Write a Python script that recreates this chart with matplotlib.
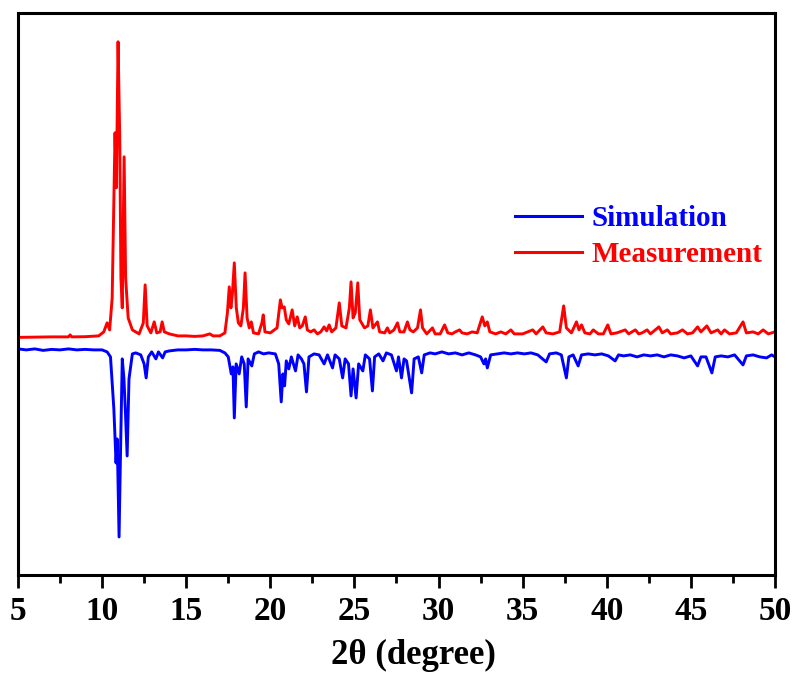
import matplotlib
matplotlib.use("Agg")
import matplotlib.pyplot as plt
from matplotlib.ticker import MultipleLocator

# Measured pattern (red): 2theta vertices and intensity above its own baseline
red_x = [5.0, 6.0, 7.0, 8.0, 8.1, 8.2, 9.0, 9.8, 10.1, 10.3, 10.45, 10.6, 10.77, 10.85,
         10.95, 11.05, 11.12, 11.2, 11.31, 11.4, 11.55, 11.8, 12.2, 12.45, 12.56, 12.68,
         12.9, 13.1, 13.25, 13.45, 13.57, 13.7, 14.0, 14.5, 15.0, 15.5, 16.0, 16.4, 16.6,
         17.0, 17.3, 17.45, 17.56, 17.66, 17.75, 17.86, 17.98, 18.1, 18.25, 18.4, 18.5,
         18.62, 18.75, 18.87, 19.0, 19.3, 19.5, 19.58, 19.68, 20.0, 20.4, 20.6, 20.7,
         20.83, 20.95, 21.1, 21.3, 21.45, 21.6, 21.75, 21.9, 22.08, 22.2, 22.4, 22.6,
         22.8, 23.0, 23.2, 23.35, 23.5, 23.65, 23.9, 24.1, 24.25, 24.5, 24.7, 24.8,
         24.92, 25.05, 25.2, 25.32, 25.6, 25.8, 25.95, 26.1, 26.37, 26.5, 26.8, 26.96,
         27.1, 27.35, 27.56, 27.7, 27.95, 28.15, 28.3, 28.5, 28.75, 28.93, 29.05, 29.3,
         29.64, 29.8, 30.1, 30.36, 30.55, 30.8, 31.0, 31.25, 31.4, 31.7, 32.0, 32.3,
         32.6, 32.75, 32.9, 33.05, 33.4, 33.7, 34.0, 34.3, 34.5, 35.0, 35.3, 35.6, 35.8,
         36.2, 36.4, 36.8, 37.2, 37.44, 37.6, 37.9, 38.2, 38.35, 38.5, 38.7, 39.0, 39.2,
         39.5, 39.8, 40.06, 40.25, 40.6, 41.1, 41.3, 41.7, 41.9, 42.1, 42.4, 42.6, 43.1,
         43.3, 43.6, 43.8, 44.2, 44.5, 44.8, 45.1, 45.4, 45.6, 45.95, 46.2, 46.6, 46.8,
         47.0, 47.3, 47.7, 48.1, 48.3, 48.7, 49.0, 49.3, 49.6, 50.0]
red_y = [0.5, 0.8, 1.0, 1.0, 3, 1, 1.2, 2, 6, 15, 8, 40, 205, 150,
         296, 200, 60, 30, 181, 60, 20, 8, 4, 15, 53, 12,
         5, 16, 5, 6, 16, 6, 4, 2, 2, 1.5, 2, 4, 2,
         2, 5, 25, 51, 30, 45, 75, 30, 15, 12, 30, 65,
         20, 10, 16, 5, 4, 15, 23, 6, 5, 10, 38, 30,
         31, 18, 14, 28, 12, 21, 10, 12, 21, 8, 6, 8,
         4, 6, 11, 7, 13, 6, 10, 35, 12, 10, 30, 56,
         20, 25, 55, 18, 10, 12, 28, 10, 16, 6, 5, 10,
         5, 8, 15, 6, 6, 16, 8, 6, 10, 28, 10, 4,
         10, 4, 4, 13, 5, 4, 6, 8, 5, 4, 6, 5,
         21, 12, 16, 6, 4, 6, 4, 8, 4, 4, 6, 8, 4,
         11, 5, 4, 6, 32, 10, 5, 16, 8, 13, 5, 4, 8,
         4, 4, 13, 4, 5, 8, 4, 8, 4, 5, 8, 4, 11,
         5, 8, 4, 5, 8, 4, 5, 11, 6, 12, 5, 8, 4,
         8, 4, 5, 16, 5, 6, 4, 8, 4, 6]

# Simulated pattern (blue): 2theta vertices and intensity, drawn downward
blue_x = [5.0, 5.5, 6.0, 6.5, 7.0, 7.5, 8.0, 8.5, 9.0, 9.5, 10.0, 10.3, 10.5, 10.7,
          10.83, 10.9, 11.01, 11.1, 11.2, 11.3, 11.38, 11.49, 11.6, 11.8, 12.0, 12.3,
          12.5, 12.62, 12.75, 12.95, 13.2, 13.35, 13.6, 13.75, 14.0, 14.5, 15.0, 15.5,
          16.0, 16.5, 17.0, 17.3, 17.5, 17.68, 17.78, 17.86, 17.97, 18.15, 18.3, 18.45,
          18.57, 18.68, 18.9, 19.05, 19.3, 19.6, 19.9, 20.3, 20.5, 20.65, 20.75, 20.85,
          20.95, 21.1, 21.25, 21.5, 21.65, 21.85, 22.0, 22.15, 22.3, 22.6, 22.9, 23.2,
          23.4, 23.7, 23.85, 24.1, 24.3, 24.45, 24.65, 24.8, 24.92, 25.1, 25.25, 25.5,
          25.65, 25.9, 26.07, 26.2, 26.45, 26.7, 26.9, 27.2, 27.5, 27.62, 27.8, 27.95,
          28.1, 28.4, 28.55, 28.8, 29.0, 29.15, 29.5, 29.8, 30.2, 30.6, 31.0, 31.4,
          31.8, 32.2, 32.5, 32.7, 32.8, 32.9, 33.1, 33.5, 33.9, 34.3, 34.7, 35.1, 35.5,
          35.9, 36.4, 36.6, 37.0, 37.3, 37.6, 37.75, 38.0, 38.3, 38.5, 38.9, 39.3, 39.7,
          40.1, 40.5, 40.7, 41.0, 41.4, 41.8, 42.2, 42.6, 43.0, 43.4, 43.8, 44.2, 44.6,
          45.0, 45.4, 45.6, 45.9, 46.25, 46.45, 46.8, 47.2, 47.6, 48.1, 48.3, 48.7,
          49.1, 49.5, 49.8, 50.0]
blue_y = [0, 1, 0, 1.5, 0.5, 1, 0, 1, 0.5, 1, 1, 3, 8, 60,
          114, 90, 188, 100, 10, 30, 60, 107, 30, 5, 4, 6,
          15, 29, 8, 3, 10, 3, 9, 3, 2, 1, 1, 0.5,
          1, 1, 1.5, 4, 8, 25, 18, 69, 15, 25, 8, 15,
          58, 10, 17, 5, 3, 5, 4, 5, 15, 53, 25, 37,
          12, 20, 8, 22, 6, 10, 15, 43, 8, 5, 6, 15,
          6, 19, 6, 10, 29, 10, 15, 47, 20, 49, 15, 22,
          6, 10, 42, 8, 5, 12, 4, 6, 22, 8, 29, 10,
          12, 44, 10, 8, 24, 6, 4, 5, 3, 5, 4, 6,
          4, 6, 8, 15, 10, 19, 6, 5, 4, 5, 4, 5, 4,
          6, 13, 5, 4, 6, 29, 8, 6, 17, 6, 5, 6, 5,
          7, 12, 6, 7, 6, 8, 6, 7, 6, 8, 6, 7, 9,
          7, 17, 8, 8, 24, 8, 7, 8, 6, 16, 7, 6,
          8, 9, 6, 8]

red_offset = 237
blue_offset = 226

plt.rcParams['font.family'] = ['Liberation Serif', 'DejaVu Serif']
plt.rcParams['font.weight'] = 'bold'

fig = plt.figure(figsize=(7.95, 6.79), dpi=100)
ax = fig.add_axes([0.0226, 0.1532, 0.9522, 0.828])

ax.plot(blue_x, [blue_offset - v for v in blue_y], color='#0000ff', lw=2.1, label='Simulation')
ax.plot(red_x, [red_offset + v for v in red_y], color='#ff0000', lw=2.1, label='Measurement')

ax.set_xlim(5, 50)
ax.set_ylim(0, 562)
ax.set_yticks([])
ax.xaxis.set_major_locator(MultipleLocator(5))
ax.xaxis.set_minor_locator(MultipleLocator(2.5))
ax.tick_params(axis='x', which='major', direction='out', length=9, width=2, labelsize=24, pad=6)
ax.tick_params(axis='x', which='minor', direction='out', length=5.5, width=2)
for s in ax.spines.values():
    s.set_linewidth(2.2)
for lab in ax.get_xticklabels():
    lab.set_fontweight('bold')

ax.set_xlabel('2θ (degree)', fontsize=25, fontweight='bold')
ax.xaxis.set_label_coords(0.522, -0.113, transform=ax.transAxes)
ax.xaxis.label.set_verticalalignment('top')

leg = ax.legend(loc='center left', bbox_to_anchor=(0.657, 0.602), frameon=False,
                fontsize=21, handlelength=2.3, handletextpad=0.3, labelspacing=0.3,
                borderpad=0, borderaxespad=0)
for t, c in zip(leg.get_texts(), ['#0000ff', '#ff0000']):
    t.set_color(c)
    t.set_fontweight('bold')
for h in leg.get_lines():
    h.set_linewidth(2.2)

fig.savefig('out.png', dpi=100)
